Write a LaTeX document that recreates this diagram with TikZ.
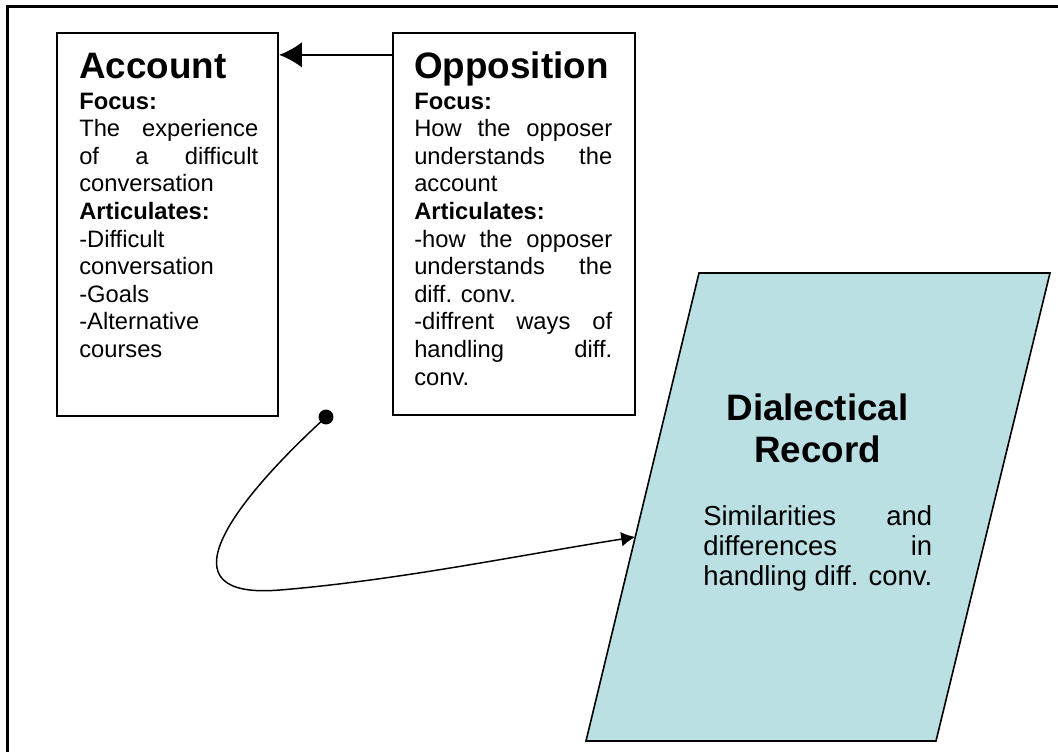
\documentclass[tikz,border=0pt]{standalone}
\usepackage{fontspec}
\setmainfont{Liberation Sans}
\usetikzlibrary{arrows.meta,fit,calc}
\definecolor{recordblue}{RGB}{187,224,227}
\newcommand{\spread}[2]{\makebox[#1][s]{#2}}
\newcommand{\titlefont}{\fontsize{27.6}{31.7}\bfseries}
\newcommand{\bodyfont}{\fontsize{17.8}{20.7}\selectfont}
\newcommand{\recfont}{\fontsize{20.6}{23.7}\selectfont}

\begin{document}
\begin{tikzpicture}[x=0.75pt,y=-0.75pt,
    box/.style={draw, line width=1.7pt, inner sep=0pt},
    line/.style={anchor=base west, inner sep=0pt, font=\bodyfont},
    title/.style={anchor=base west, inner sep=0pt, font=\titlefont}]
    \useasboundingbox (0,0) rectangle (1058,751);
    % frame
    \draw[line width=2.2pt] (7.5,760) -- (7.5,6.5) -- (1070,6.5);

    % the two boxes
    \node[box, fit={(57,33) (278,416)}] (account) {};
    \node[box, fit={(393,33) (635,415)}] (opposition) {};

    \node[title] (account-title) at (79,78) {Account};
    \foreach \txt [count=\i from 0] in {\textbf{Focus:}, \spread{134.25pt}{The experience},
        \spread{134.25pt}{of a difficult}, conversation, \textbf{Articulates:}, -Difficult,
        conversation, -Goals, -Alternative, courses} {
      \node[line] (account-\i) at (79,{109+27.6*\i}) {\txt};
    }

    \node[title] (opposition-title) at (414,78) {Opposition};
    \foreach \txt [count=\i from 0] in {\textbf{Focus:}, \spread{148.5pt}{How the opposer},
        \spread{148.5pt}{understands the}, account, \textbf{Articulates:},
        \spread{148.5pt}{-how the opposer}, \spread{148.5pt}{understands the}, diff. conv.,
        \spread{148.5pt}{-diffrent ways of}, \spread{148.5pt}{handling diff.}, conv.} {
      \node[line] (opposition-\i) at (414,{109+27.6*\i}) {\txt};
    }

    \coordinate (tip) at ($(opposition.north west)+(0,23)$);
    \draw[line width=1.5pt, -{Latex[length=17pt,width=19pt]}] (tip) -- (tip -| account.east);

    % dialectical record
    \coordinate (rec-tl) at (699,273);
    \coordinate (rec-tr) at (1050,273);
    \coordinate (rec-br) at (936,741);
    \coordinate (rec-bl) at (586,741);
    \filldraw[fill=recordblue, draw=black, line width=1.2pt]
      (rec-tl) -- (rec-tr) -- (rec-br) -- (rec-bl) -- cycle;
    \node[title, anchor=base] (record-1) at (817.5,420) {Dialectical};
    \node[title, anchor=base] (record-2) at (817.5,462) {Record};
    \foreach \txt [count=\i from 0] in {\spread{171.75pt}{Similarities and},
        \spread{171.75pt}{differences in}, handling diff. conv.} {
      \node[line, font=\recfont] (record-txt-\i) at (703,{525+30*\i}) {\txt};
    }

    % loose end to the record
    \coordinate (loose) at (326,417);
    \fill (loose) circle[radius=5.6pt];
    \coordinate (rec-in) at ($(rec-tl)!0.564!(rec-bl)$);
    \draw[line width=1.1pt, -{Latex[length=10.5pt,width=11pt]}] (loose)
      .. controls (230,505) and (160,600) .. (280,590)
      .. controls (400,580) and (520,555) .. (rec-in);
\end{tikzpicture}
\end{document}
